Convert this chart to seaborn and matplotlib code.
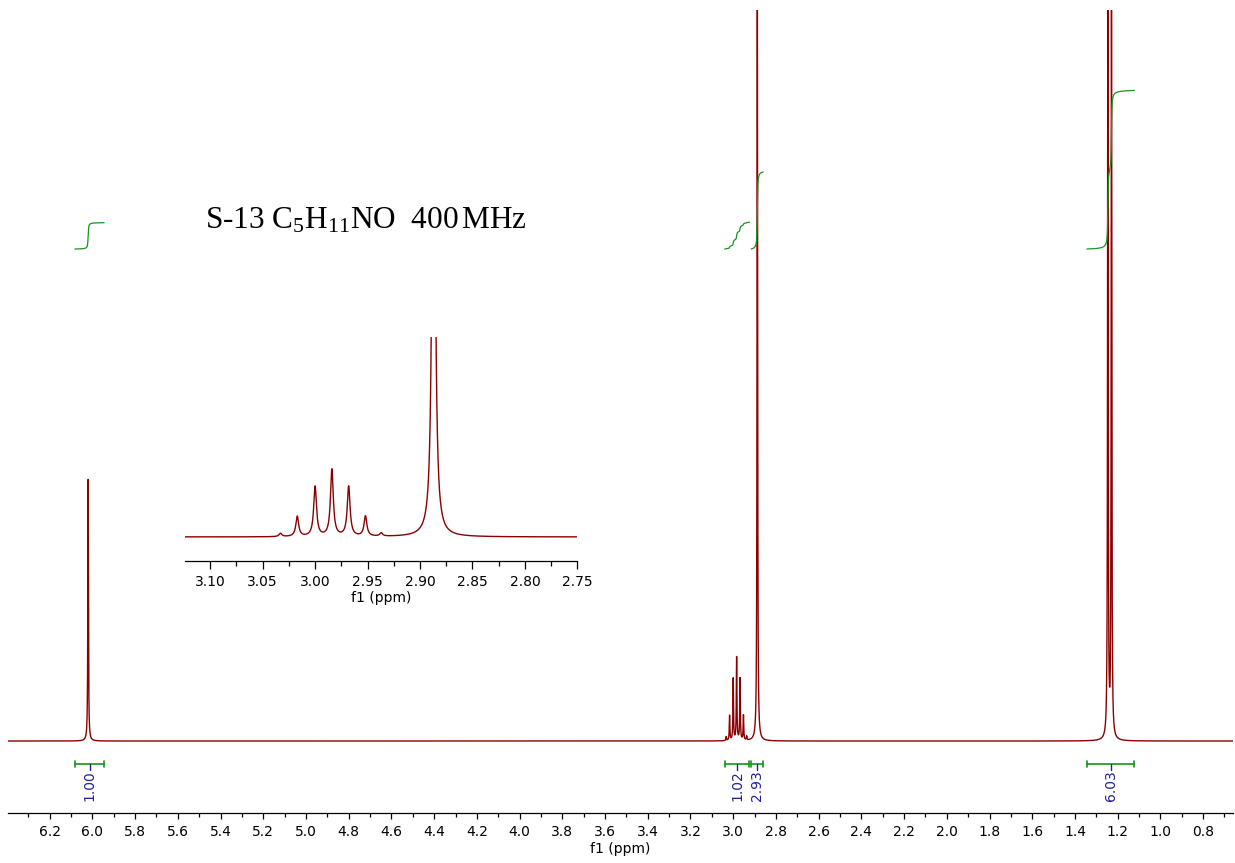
import matplotlib
matplotlib.use("Agg")
import matplotlib.pyplot as plt
import numpy as np
import pandas as pd
import seaborn as sns
from matplotlib.ticker import MultipleLocator, FormatStrFormatter

# peak list (ppm, height in plot units)
peak_ppm = [6.020, 3.033, 3.017, 3.000, 2.984, 2.968, 2.952, 2.937, 2.887, 1.246, 1.229]
peak_height = [262, 4, 25, 62, 83, 62, 25, 4, 765, 787, 787]
line_hwhm = 0.0016

# integrals
int_start = [6.082, 3.040, 2.916, 1.344]
int_end = [5.945, 2.924, 2.860, 1.122]
int_value = [1.00, 1.02, 2.93, 6.03]

title_text = r"S-13 C$_{5}$H$_{11}$NO  400$\,$MHz"

spec_color = "#8b0000"
int_color = "#14961e"
label_color = "#20209a"


def build_spectrum(ppm):
    """Sum of Lorentzian lines for the peak list."""
    y = np.zeros_like(ppm)
    for p, h in zip(peak_ppm, peak_height):
        y += h * line_hwhm**2 / ((ppm - p) ** 2 + line_hwhm**2)
    return y


sns.set_theme(style="white")
plt.rcParams["font.family"] = ["DejaVu Sans"]
plt.rcParams["mathtext.fontset"] = "custom"
plt.rcParams["mathtext.rm"] = "Liberation Serif"
plt.rcParams["mathtext.it"] = "Liberation Serif:italic"
plt.rcParams["mathtext.bf"] = "Liberation Serif:bold"

ppm = np.linspace(6.395, 0.66, 40000)
spec = pd.DataFrame({"ppm": ppm, "intensity": build_spectrum(ppm)})

fig = plt.figure(figsize=(12.35, 8.63), dpi=100)

# main spectrum
ax = fig.add_axes([0.0065, 0.0579, 0.9919, 0.9305])
sns.lineplot(data=spec, x="ppm", y="intensity", ax=ax, color=spec_color,
             lw=1.0, sort=False, estimator=None)
ax.set_xlim(6.395, 0.66)
ax.set_ylim(-72, 731)

# integral curves and bars
curve_base = 492
per_h = 26.3
for a, b, v in zip(int_start, int_end, int_value):
    m = (spec["ppm"] <= a) & (spec["ppm"] >= b)
    seg = spec[m]
    cum = np.cumsum(seg["intensity"].values)
    curve = pd.DataFrame({"ppm": seg["ppm"].values,
                          "integral": curve_base + per_h * v * cum / cum[-1]})
    sns.lineplot(data=curve, x="ppm", y="integral", ax=ax, color=int_color,
                 lw=0.9, sort=False, estimator=None)
    ax.plot([a, b], [-23, -23], color=int_color, lw=1.2)
    ax.plot([a, a], [-26, -20], color=int_color, lw=1.2)
    ax.plot([b, b], [-26, -20], color=int_color, lw=1.2)
    mid = (a + b) / 2
    ax.plot([mid, mid], [-23, -29], color=label_color, lw=1.0)
    ax.text(mid, -29, "%.2f" % v, rotation=90, ha="center", va="top",
            fontsize=10, color=label_color)

for side in ["left", "right", "top"]:
    ax.spines[side].set_visible(False)
ax.spines["bottom"].set_color("black")
ax.spines["bottom"].set_linewidth(0.9)
ax.set_yticks([])
ax.set_ylabel("")
ax.xaxis.set_major_locator(MultipleLocator(0.2))
ax.xaxis.set_minor_locator(MultipleLocator(0.1))
ax.xaxis.set_major_formatter(FormatStrFormatter("%.1f"))
ax.tick_params(axis="x", which="major", direction="out", length=4.5, width=0.9,
               color="black", labelsize=10, labelcolor="black", pad=4, bottom=True)
ax.tick_params(axis="x", which="minor", direction="out", length=3, width=0.9,
               color="black", bottom=True)
ax.set_xlabel("f1 (ppm)", fontsize=10, labelpad=2, color="black")
ax.set_facecolor("white")

# inset zoom on 2.75 - 3.12 ppm
axin = fig.add_axes([0.1498, 0.3503, 0.3177, 0.2592])
axin.set_facecolor("none")
sns.lineplot(data=spec, x="ppm", y="intensity", ax=axin, color=spec_color,
             lw=1.0, sort=False, estimator=None)
axin.set_xlim(3.124, 2.75)
axin.set_ylim(-29.4, 247.8)
for side in ["left", "right", "top"]:
    axin.spines[side].set_visible(False)
axin.spines["bottom"].set_color("black")
axin.spines["bottom"].set_linewidth(0.9)
axin.set_yticks([])
axin.set_ylabel("")
axin.xaxis.set_major_locator(MultipleLocator(0.05))
axin.xaxis.set_minor_locator(MultipleLocator(0.025))
axin.xaxis.set_major_formatter(FormatStrFormatter("%.2f"))
axin.tick_params(axis="x", which="major", direction="out", length=5.5, width=0.9,
                 color="black", labelsize=10, labelcolor="black", pad=5, bottom=True)
axin.tick_params(axis="x", which="minor", direction="out", length=3.5, width=0.9,
                 color="black", bottom=True)
axin.set_xlabel("f1 (ppm)", fontsize=10, labelpad=1, color="black")

fig.text(0.166, 0.7358, title_text, fontsize=22.5, family="Liberation Serif",
         va="baseline", ha="left", color="black")

fig.savefig("out.png", dpi=100)
